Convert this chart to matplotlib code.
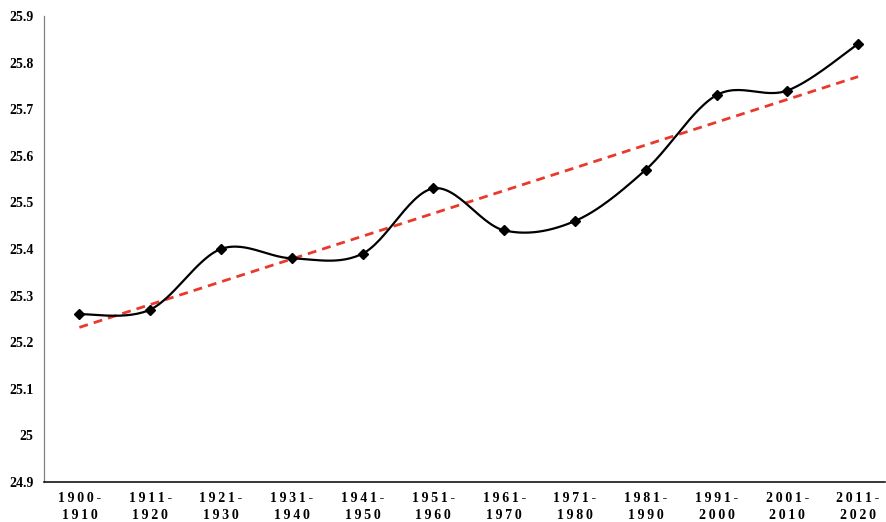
import numpy as np
import matplotlib
matplotlib.use("Agg")
from matplotlib import pyplot as plt

# decade labels and mean values
periods = ["1900-\n1910", "1911-\n1920", "1921-\n1930", "1931-\n1940",
           "1941-\n1950", "1951-\n1960", "1961-\n1970", "1971-\n1980",
           "1981-\n1990", "1991-\n2000", "2001-\n2010", "2011-\n2020"]
values = [25.26, 25.27, 25.40, 25.38, 25.39, 25.53,
          25.44, 25.46, 25.57, 25.73, 25.74, 25.84]
y_ticks = [24.9, 25, 25.1, 25.2, 25.3, 25.4, 25.5, 25.6, 25.7, 25.8, 25.9]


def smooth_curve(x, y, steps=30):
    """Excel-like smoothed line: cubic Bezier with Catmull-Rom control points."""
    px = np.concatenate([[x[0]], x, [x[-1]]])
    py = np.concatenate([[y[0]], y, [y[-1]]])
    t = np.linspace(0, 1, steps)
    xs, ys = [], []
    for i in range(1, len(px) - 2):
        p0 = np.array([px[i], py[i]])
        p3 = np.array([px[i + 1], py[i + 1]])
        c1 = p0 + (p3 - np.array([px[i - 1], py[i - 1]])) / 6
        c2 = p3 - (np.array([px[i + 2], py[i + 2]]) - p0) / 6
        pts = (np.outer((1 - t) ** 3, p0) + np.outer(3 * (1 - t) ** 2 * t, c1)
               + np.outer(3 * (1 - t) * t ** 2, c2) + np.outer(t ** 3, p3))
        xs.append(pts[:, 0])
        ys.append(pts[:, 1])
    return np.concatenate(xs), np.concatenate(ys)


def spaced(label):
    return "\n".join("\u2009".join(part) for part in label.split("\n"))


x = np.arange(len(values))
y = np.array(values)

fig = plt.figure(figsize=(8.86, 5.22), dpi=100)
ax = fig.add_axes([44 / 886, 1 - 482 / 522, 841 / 886, 466 / 522])

sx, sy = smooth_curve(x.astype(float), y)
ax.plot(sx, sy, color="black", lw=1.6, zorder=3)
ax.plot(x, y, ls="none", marker="D", ms=5.5, color="black", zorder=4)

# linear trend line
slope, intercept = np.polyfit(x + 1, y, 1)
ax.plot(x, slope * (x + 1) + intercept, color="#e8392c", lw=2.0,
        ls=(0, (3.2, 2.2)), zorder=2)

ax.set_xlim(-0.5, 11.38)
ax.set_ylim(24.9, 25.9)
ax.set_yticks(y_ticks)
ax.set_yticklabels(["%g" % v for v in y_ticks])
ax.set_xticks(x)
ax.set_xticklabels([spaced(p) for p in periods], linespacing=1.45)

for s in ["top", "right"]:
    ax.spines[s].set_visible(False)
ax.spines["left"].set_color("#808080")
ax.spines["left"].set_linewidth(0.9)
ax.spines["bottom"].set_color("black")
ax.spines["bottom"].set_linewidth(1.1)
ax.tick_params(length=0)
ax.tick_params(axis="x", pad=7)
ax.tick_params(axis="y", pad=7.5)
for lab in ax.get_xticklabels() + ax.get_yticklabels():
    lab.set_fontfamily(["Liberation Serif", "DejaVu Serif"])
    lab.set_fontweight("bold")
    lab.set_fontsize(10)

fig.savefig("out.png", dpi=100)
